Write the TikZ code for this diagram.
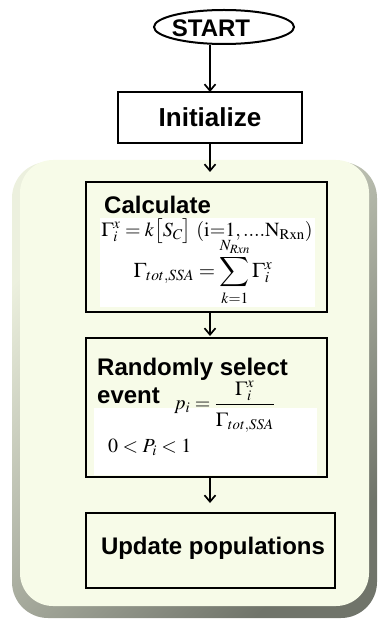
\documentclass[tikz,border=0pt]{standalone}
\usepackage{mathptmx}
\usepackage{exscale}
\usepackage{fontspec}
\setmainfont{Liberation Serif}
\newfontfamily\hv{Liberation Sans}
\usetikzlibrary{arrows.meta,calc,shapes.geometric}
\definecolor{cream}{RGB}{247,251,232}
\definecolor{shlight}{RGB}{236,240,222}
\definecolor{shdark}{RGB}{112,116,106}
\tikzset{
  box/.style={draw=black, line width=2.4pt, fill=cream, inner sep=0pt, outer sep=0pt},
  arr/.style={line width=1.7pt, -{Straight Barb[length=6.5pt,width=11pt,line width=1.7pt]}},
  title/.style={font=\hv\bfseries\fontsize{24}{28}\selectfont, inner sep=0pt},
  formula/.style={font=\fontsize{20}{24}\selectfont, inner sep=0pt}
}
\begin{document}
\begin{tikzpicture}[x=1pt,y=-1pt]
\useasboundingbox (0,0) rectangle (378,620);
% background panel with bevel shadow
\shade[rounded corners=36pt, top color=shlight, bottom color=shdark, shading angle=45] (12,162) rectangle (377,618);
\fill[cream, rounded corners=33pt] (20,160) rectangle (369,606);

% START
\node[ellipse, draw=black, line width=2pt, fill=white, minimum width=140pt, minimum height=34pt, inner sep=0pt] (start) at (224,27) {};
\node[title] (starttxt) at (211,28) {START};

% Initialize
\node[box, fill=white, title, font=\hv\bfseries\fontsize{26}{30}\selectfont, minimum width=184pt, minimum height=51pt] (init) at (210,117.5) {Initialize};

% Calculate
\node[box, minimum width=241pt, minimum height=130pt] (calc) at (206.5,247) {};
\fill[white] (100,218) rectangle (315,307);
\node[title, anchor=base west] (calct) at (104,213) {Calculate};
\node[formula] (f1) at (207,231) {$\Gamma^{x}_{i}=k\bigl[S_{C}\bigr]\ (\mathrm{i{=}1,....N_{Rxn}})$};
\node[formula, font=\fontsize{21}{25}\selectfont] (f2) at (203,272) {$\displaystyle\Gamma_{tot,SSA}=\sum_{k=1}^{N_{Rxn}}\Gamma^{x}_{i}$};

% Randomly select event
\node[box, minimum width=241pt, minimum height=139pt] (rand) at (206.5,407.5) {};
\fill[white] (94,408) rectangle (317,475);
\node[title, anchor=base west] (randt) at (97,375) {Randomly select};
\node[title, anchor=base west] (event) at (97,403) {event};
\node[formula, anchor=base west] (pf) at (174,409) {$\displaystyle p_i=\frac{\Gamma^{x}_{i}\rule[-3pt]{0pt}{3pt}}{\rule{0pt}{20pt}\Gamma_{tot,SSA}}$};
\node[formula, anchor=west] (pr) at (108,447) {$0<P_i<1$};

% Update populations
\node[box, minimum width=249pt, minimum height=75pt] (upd) at (210.5,550.5) {};
\node[title] (updt) at (213,548) {Update populations};

% connectors
\draw[arr] (init.north |- start.south) -- (init.north);
\draw[arr, shorten >=10pt] (init.south) -- (init.south |- calc.north);
\draw[arr, shorten >=2pt] (init.south |- calc.south) -- (init.south |- rand.north);
\draw[arr, shorten >=10pt] (init.south |- rand.south) -- (init.south |- upd.north);
\end{tikzpicture}
\end{document}
